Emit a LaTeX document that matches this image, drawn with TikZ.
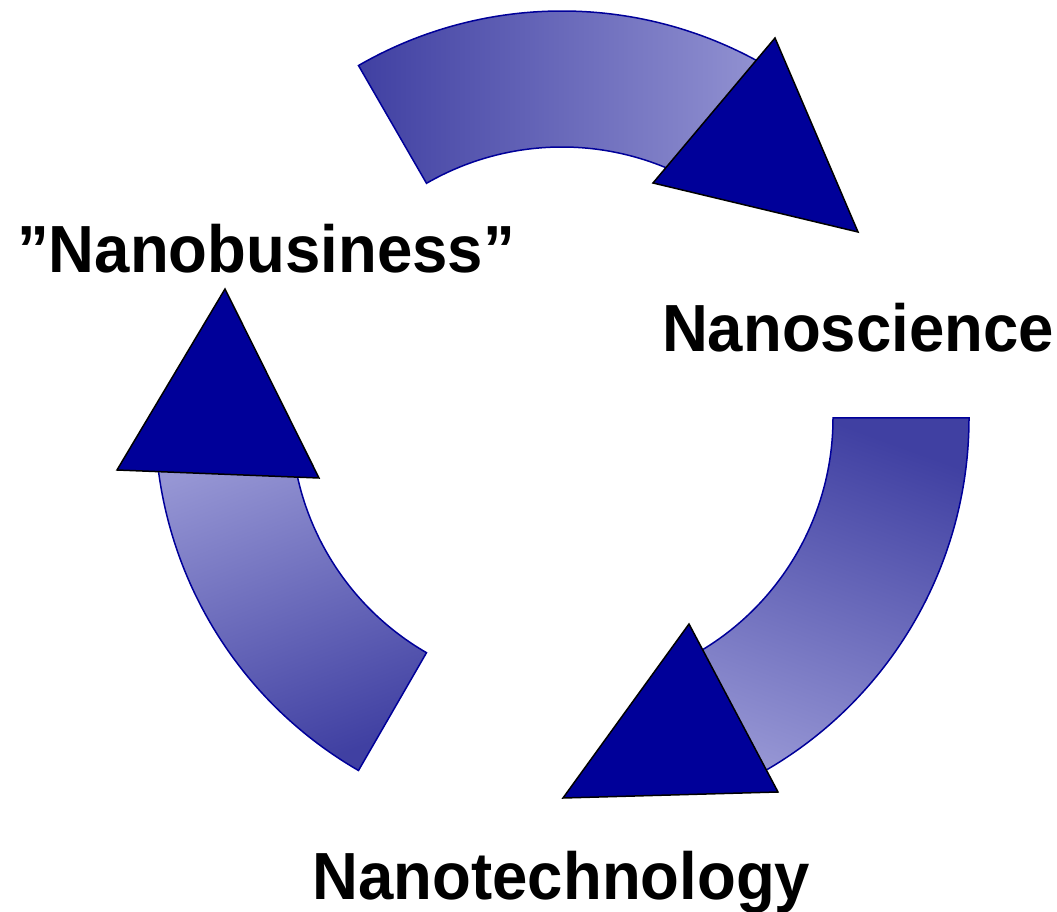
\documentclass[tikz,border=0pt]{standalone}
\usepackage{fontspec}
\setmainfont{Liberation Sans}
\definecolor{bandDark}{RGB}{64,64,162}
\definecolor{bandLight}{RGB}{150,150,212}
\definecolor{navy}{RGB}{0,0,153}
\tikzset{
  band/.style={draw=navy, line width=1.5pt},
  head/.style={fill=navy, draw=black, line width=1.5pt},
  captext/.style={font=\bfseries\fontsize{63.5}{70}\selectfont, inner sep=0pt, anchor=base}
}
\begin{document}
\begin{tikzpicture}[x=1pt,y=1pt]
\useasboundingbox (0,0) rectangle (1057,911);
\coordinate (C) at (562,493);
\begin{scope}[shift={(C)}]
  % top band
  \path[band, left color=bandDark, right color=bandLight]
    (120:407) arc[start angle=120, end angle=57, radius=407]
    -- (57:271) arc[start angle=57, end angle=120, radius=271] -- cycle;
  % right band
  \path[band, top color=bandDark, bottom color=bandLight, shading angle=-20]
    (0:407) arc[start angle=0, end angle=-65, radius=407]
    -- (-65:271) arc[start angle=-65, end angle=0, radius=271] -- cycle;
  % left band
  \path[band, top color=bandLight, bottom color=bandDark, shading angle=20]
    (240:407) arc[start angle=240, end angle=184, radius=407]
    -- (184:271) arc[start angle=184, end angle=240, radius=271] -- cycle;
\end{scope}
% arrow heads
\draw[head] (653,728) -- (775,873) -- (858,679) -- cycle;
\draw[head] (689,287) -- (563,113) -- (778,119) -- cycle;
\draw[head] (225,622) -- (117,441) -- (319,433) -- cycle;
% labels
\node[captext] (sci) at (858,559) {\scalebox{1}[1.05]{Nanoscience}};
\node[captext] (tech) at (561.5,12) {\scalebox{1}[1.05]{Nanotechnology}};
\node[captext] (bus) at (266,638) {\scalebox{1}[1.05]{”Nanobusiness”}};
\end{tikzpicture}
\end{document}
